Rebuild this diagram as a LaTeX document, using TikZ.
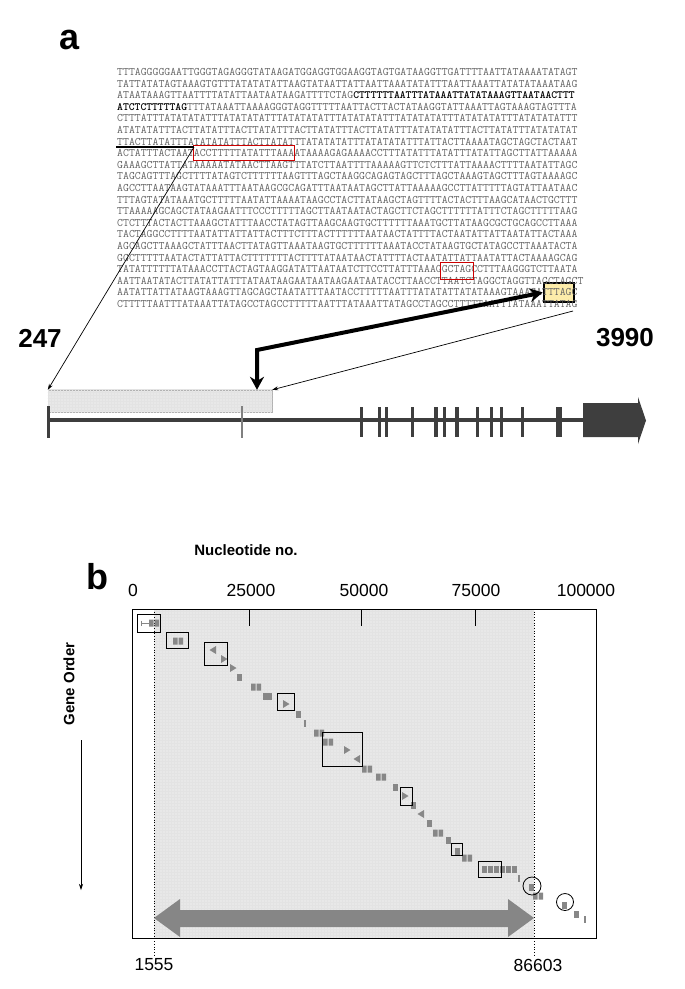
\documentclass[tikz,border=0pt]{standalone}
\usepackage{fontspec}
\setsansfont{Liberation Sans}
\usetikzlibrary{arrows.meta,patterns}

\definecolor{seqgray}{RGB}{100,100,100}
\definecolor{genegray}{RGB}{62,62,62}
\definecolor{markgray}{RGB}{135,135,135}
\definecolor{lightshade}{RGB}{232,232,232}
\definecolor{hilite}{RGB}{252,236,170}

\newcommand{\bseq}[1]{\textcolor{black}{\fontsize{11.1}{11.6}\selectfont\bfseries #1}}

\tikzset{
  seqline/.style={anchor=west, inner sep=0pt, text=seqgray,
    font=\fontsize{11.46}{11.6}\selectfont\ttfamily},
  panel/.style={font=\sffamily\bfseries\fontsize{36}{36}\selectfont},
  endlabel/.style={font=\sffamily\bfseries\fontsize{26}{26}\selectfont},
  axislabel/.style={font=\sffamily\fontsize{17.5}{17.5}\selectfont},
  titlelabel/.style={font=\sffamily\bfseries\fontsize{15}{15}\selectfont},
  redbox/.style={draw=red!80!black, line width=0.8pt},
  stipple/.style={pattern=grid, pattern color=gray!22},
  genebox/.style={draw=gray!60, fill=lightshade, inner sep=0pt},
  exon/.style={fill=genegray},
  genemark/.style={fill=markgray},
  hitbox/.style={draw=black, line width=0.9pt},
  thinarrow/.style={line width=0.7pt, arrows={-Stealth[length=6pt,width=4pt]}},
  thickarrow/.style={line width=4pt,
    arrows={Stealth[length=13pt,width=14pt]-Stealth[length=13pt,width=14pt]}},
}

\begin{document}
\begin{tikzpicture}[>=stealth, x=1pt, y=-1pt]
\useasboundingbox (0,0) rectangle (685,989);

% panel a
\node[panel] (a) at (70,40) {a};

\node[draw=black, line width=2.6pt, fill=hilite, minimum width=30pt,
  minimum height=19pt, inner sep=0pt] (stop) at (559,292.5) {};

\foreach \seq [count=\i] in {
 {TTTAGGGGGAATTGGGTAGAGGGTATAAGATGGAGGTGGAAGGTAGTGATAAGGTTGATTTTAATTATAAAATATAGT},
 {TATTATATAGTAAAGTGTTTATATATATTAAGTATAATTATTAATTAAATATATTTAATTAAATTATATATAAATAAG},
 {ATAATAAAGTTAATTTTATATTAATAATAAGATTTTCTAG\bseq{CTTTTTTAATTTATAAATTATATAAAGTTAATAACTTT}},
 {\bseq{ATCTCTTTTTAG}TTTATAAATTAAAAGGGTAGGTTTTTAATTACTTACTATAAGGTATTAAATTAGTAAAGTAGTTTA},
 {CTTTATTTATATATATTTATATATATTTATATATATTTATATATATTTATATATATTTATATATATTTATATATATTT},
 {ATATATATTTACTTATATTTACTTATATTTACTTATATTTACTTATATTTATATATATTTACTTATATTTATATATAT},
 {TTACTTATATTTATATATATTTACTTATATTTATATATATTTATATATATTTATTACTTAAAATAGCTAGCTACTAAT},
 {ACTATTTACTAATACCTTTTTATATTTAAAATAAAAGAGAAAACCTTTATATTTATATTTATATTAGCTTATTAAAAA},
 {GAAAGCTTATTATAAAAATATAACTTAAGTTTATCTTAATTTTAAAAAGTTCTCTTTATTAAAACTTTTAATATTAGC},
 {TAGCAGTTTAGCTTTTATAGTCTTTTTTAAGTTTAGCTAAGGCAGAGTAGCTTTAGCTAAAGTAGCTTTAGTAAAAGC},
 {AGCCTTAATAAGTATAAATTTAATAAGCGCAGATTTAATAATAGCTTATTAAAAAGCCTTATTTTTAGTATTAATAAC},
 {TTTAGTATATAAATGCTTTTTAATATTAAAATAAGCCTACTTATAAGCTAGTTTTACTACTTTAAGCATAACTGCTTT},
 {TTAAAAAGCAGCTATAAGAATTTCCCTTTTTAGCTTAATAATACTAGCTTCTAGCTTTTTTATTTCTAGCTTTTTAAG},
 {CTCTTTACTACTTAAAGCTATTTAACCTATAGTTAAGCAAGTGCTTTTTTAAATGCTTATAAGCGCTGCAGCCTTAAA},
 {TACTAGGCCTTTTAATATTATTATTACTTTCTTTACTTTTTTAATAACTATTTTACTAATATTATTAATATTACTAAA},
 {AGCAGCTTAAAGCTATTTAACTTATAGTTAAATAAGTGCTTTTTTAAATACCTATAAGTGCTATAGCCTTAAATACTA},
 {GGCTTTTTAATACTATTATTACTTTTTTTACTTTTATAATAACTATTTTACTAATATTATTAATATTACTAAAAGCAG},
 {TATATTTTTTATAAACCTTACTAGTAAGGATATTAATAATCTTCCTTATTTAAAGGCTAGCCTTTAAGGGTCTTAATA},
 {AATTAATATACTTATATTATTTATAATAAGAATAATAAGAATAATACCTTAACCTTAATCTAGGCTAGGTTAGCTAGCT},
 {AATATTATTATAAGTAAAGTTAGCAGCTAATATTTAATACCTTTTTAATTTATATATTATATAAAGTAAAGATTTAGC},
 {CTTTTTAATTTATAAATTATAGCCTAGCCTTTTTAATTTATAAATTATAGCCTAGCCTTTTTAATTTATAAATTATAG}}
  \node[seqline] (line\i) at (117,{60.4+11.6*\i}) {\seq};

\draw[redbox] (193,145.5) rectangle (294,160.5);
\draw[redbox] (440,262) rectangle (473,279);

% start marker and gene model
\coordinate (seqleft) at (116,147);
\coordinate (startmark) at (194,147);
\coordinate (seqend) at (573,311);
\coordinate (bend) at (257,350);
\draw[line width=1.2pt] (seqleft) -- (startmark);

\node[genebox, minimum width=224pt, minimum height=22pt] (cds) at (160,401) {};
\fill[stipple] (cds.north west) rectangle (cds.south east);

\draw[genegray, line width=3.5pt] (48,420) -- (590,420);
\fill[exon] (46.5,406) rectangle (49.5,438);
\fill[gray] (241.3,406) rectangle (242.7,438);
\foreach \x/\w in {361/3, 379/3, 386/3, 412/3, 436/3.5, 444/3, 457/4,
                   477/3, 491/3, 501/3, 522/3, 559/6.5}
  \fill[exon] (\x-\w/2,407) rectangle (\x+\w/2,437);
\fill[exon] (583,403) -- (638,403) -- (638,397) -- (646,420.5)
  -- (638,444) -- (638,437) -- (583,437) -- cycle;

\draw[thinarrow] (startmark) -- (cds.north west);
\draw[thinarrow] (seqend) -- (cds.north east);
\draw[thickarrow] (stop.west) -- (bend) -- (bend |- cds.north);

\node[endlabel] (first) at (40,338) {247};
\node[endlabel] (last) at (625,338) {3990};

% panel b
\node[panel] (b) at (97,577) {b};
\node[titlelabel] (axtitle) at (246,550) {Nucleotide no.};

\fill[lightshade] (154,609) rectangle (534,938);
\fill[stipple] (154,609) rectangle (534,938);
\draw[line width=1pt] (132,609) rectangle (596,938);
\foreach \x in {249,361,475}
  \draw[line width=0.8pt] (\x,609) -- (\x,626);

\foreach \x/\t in {133/0, 251/25000, 364/50000, 476/75000, 586/100000}
  \node[axislabel] at (\x,590) {\t};

\draw[dotted, line width=0.7pt] (154,609) -- (154,955);
\draw[dotted, line width=0.7pt] (534,609) -- (534,955);
\node[axislabel] (lo) at (154,965) {1555};
\node[axislabel] (hi) at (538,965) {86603};

% span of the cluster
\fill[gray!95] (154,918) -- (180,899) -- (180,910) -- (508,910) -- (508,899)
  -- (534,918) -- (508,937) -- (508,927) -- (180,927) -- (180,937) -- cycle;

% genes
\draw[markgray, line width=0.6pt] (141,620.5) -- (141,625.5) (141,623) -- (149,623)
  (149,620.5) -- (149,625.5);
\foreach \x/\y in {239/677, 298/714, 395/787, 413/805, 429/823, 448/840,
                   457/851, 531/887, 564/905, 576/914}
  \fill[genemark] (\x-2.5,\y-3.5) rectangle (\x+2.5,\y+3.5);
\fill[genemark] (263,692.5) rectangle (272,699.5);
\foreach \x/\y in {154/623, 178/641, 256/687, 319/733, 328/742, 367/769,
                   381/777, 438/833, 467/858, 538/896}
  \fill[genemark] (\x-5,\y-3.5) rectangle (\x-0.5,\y+3.5)
                  (\x+0.5,\y-3.5) rectangle (\x+5,\y+3.5);
\foreach \x/\y in {305/723, 519/878, 585/919}
  \fill[genemark] (\x-1.2,\y-3.5) rectangle (\x+1.2,\y+3.5);
\foreach \x/\y in {224/659, 233/668, 286/704, 347/750, 405/796}
  \fill[genemark] (\x-3,\y-4) -- (\x+3.5,\y) -- (\x-3,\y+4) -- cycle;
\foreach \x/\y in {213/650, 357/759, 421/814}
  \fill[genemark] (\x+3,\y-4) -- (\x-3.5,\y) -- (\x+3,\y+4) -- cycle;
\foreach \x in {482,488,494,500,506,512}
  \fill[genemark] (\x,865.5) rectangle (\x+5,872.5);

\foreach \xa/\ya/\xb/\yb in {137/614/160/632, 166/632/188/648, 204/642/227/665,
    277/693/294/710, 322/732/362/766, 400/787/412/805, 451/843/462/855,
    478/861/501/877}
  \draw[hitbox] (\xa,\ya) rectangle (\xb,\yb);
\draw[line width=0.8pt] (532,886) circle (9);
\draw[line width=0.8pt] (565,902) circle (8.5);

\node[titlelabel, rotate=90] (order) at (69,684) {Gene Order};
\coordinate (ordertop) at (81,740);
\coordinate (orderend) at (81,890);
\draw[thinarrow] (ordertop) -- (orderend);
\end{tikzpicture}
\end{document}
